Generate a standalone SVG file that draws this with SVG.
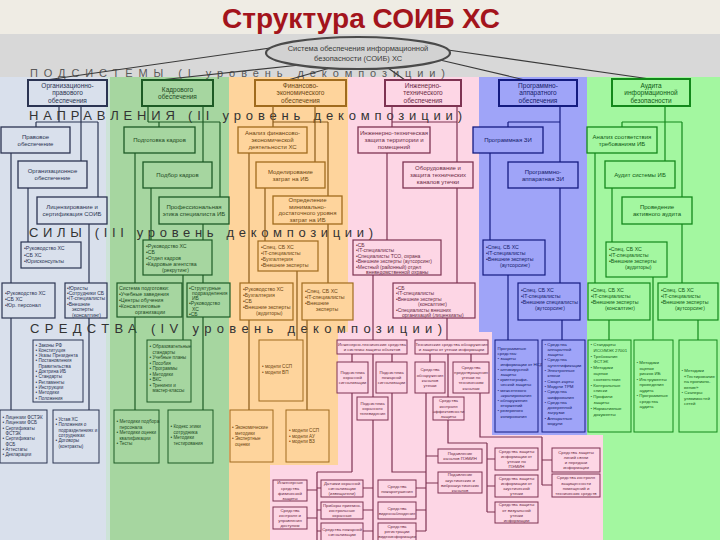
<svg xmlns="http://www.w3.org/2000/svg" width="720" height="540" viewBox="0 0 720 540">
<style>
text{font-family:"Liberation Sans",Arial,sans-serif;stroke:none}
.ttl{font-size:28px;font-weight:bold;fill:#a3141c}
.lv{fill:#333;font-size:13px}
.lv0{fill:#5a5a5a;font-size:11px}
.b1{fill:#d9e0ec;stroke:#2b3452}
.b2{fill:#a6d6a0;stroke:#1d5a25}
.b3{fill:#fed49c;stroke:#a06b1e}
.b4{fill:#fdd6e5;stroke:#7e3352}
.b5{fill:#9fa4f8;stroke:#141b80}
.b6{fill:#a3f7a0;stroke:#13881b}
.ss{stroke-width:2}
.dn{stroke-width:1.3}
.fr{stroke-width:1.2}
.mn{stroke-width:1}
.t1{fill:#2b3452}.t2{fill:#1d4a22}.t3{fill:#6b4510}.t4{fill:#6a2a44}.t5{fill:#141b6a}.t6{fill:#0f5a14}
.s6{font-size:6.5px}.s{font-size:6px}.f{font-size:5.2px}.f5{font-size:5px}.m{font-size:4.6px}.m4{font-size:4.4px}.p{font-size:4.3px}
.l0{stroke:#3a3a3a;stroke-width:1.6;fill:none}
.l1{stroke:#2b3452}.l2{stroke:#1d5a25}.l3{stroke:#8a5a18}.l4{stroke:#7e3352}.l5{stroke:#141b80}.l6{stroke:#13881b}
#connectors path{fill:none;stroke-width:1.2}
</style>

<!-- backgrounds -->
<rect x="0" y="0" width="720" height="540" fill="#efece4"/>
<rect x="0" y="34" width="720" height="43" fill="#d8d8d8"/>
<rect x="0" y="77" width="110" height="463" fill="#d9e0ec"/>
<rect x="110" y="77" width="119" height="463" fill="#a6d6a0"/>
<rect x="106" y="77" width="4" height="463" fill="#cde3d8"/>
<polygon points="229,77 348,77 348,332 338,332 338,465 270,465 270,540 229,540" fill="#fed49c"/>
<polygon points="348,77 479,77 479,332 492,332 492,435 603,435 603,540 270,540 270,465 338,465 338,332 348,332" fill="#fdd6e5"/>
<polygon points="479,77 587,77 587,435 492,435 492,332 479,332" fill="#9fa4f8"/>
<polygon points="587,77 720,77 720,540 603,540 603,435 587,435" fill="#a3f7a0"/>

<text class="ttl" x="361" y="28" text-anchor="middle" textLength="278" lengthAdjust="spacingAndGlyphs">Структура СОИБ ХС</text>

<!-- level labels -->
<text class="lv0" x="30" y="77" textLength="415" lengthAdjust="spacing">ПОДСИСТЕМЫ (I уровень декомпозиции)</text>
<text class="lv" x="29" y="120" textLength="433" lengthAdjust="spacing">НАПРАВЛЕНИЯ (II уровень декомпозиции)</text>
<text class="lv" x="29" y="237" textLength="344" lengthAdjust="spacing">СИЛЫ (III уровень декомпозиции)</text>
<text class="lv" x="30" y="333" textLength="412" lengthAdjust="spacing">СРЕДСТВА (IV уровень декомпозиции)</text>

<g id="connectors">
<path class="l0" d="M270 48L46 80M300 65L160 80M330 68L288 80M388 68L405 80M440 60L525 80M448 50L650 79"/>
<path class="l1" d="M59 106V122M81 106V161M36 122H98M36 122V127M98 122V197M11 153V410M28 188V242M89 224V410"/>
<path class="l2" d="M148 106V122M203 106V162M148 122H220M159 122V127M220 122V197M135 153V410M151 188V240M203 224V410M183 275V340"/>
<path class="l3" d="M273 106V127M315 106V162M273 122H328M328 122V196M249 153V410M265 188V241M328 224V283M307 320V410M297 271V340"/>
<path class="l4" d="M392 106V127M457 106V162M392 122H457M387 153V240M457 188V283M373 275V340M447 318V340"/>
<path class="l5" d="M560 106V162M508 122H560M508 122V127M490 153V240M560 188V283M508 275V340M562 320V340"/>
<path class="l6" d="M665 106V161M622 122H682M622 122V127M682 122V197M595 153V283M612 188V242M682 224V283M653 277V340M609 320V340M698 320V340"/>
<path class="l4" d="M352 354V362M392 354V362M373 354V397M352 393V472M317 472H352M317 472V540M307 490H317M307 518H317M317 488H321M317 510H321M317 531H321M373 420V540M363 488H373M363 510H373M363 531H373M392 393V472H426M426 393V531M426 456H438M426 483H438M416 488H426M416 510H426M416 531H426M430 354V362M471 354V362M448 354V397M448 420V443H487M487 443V512M487 459H495M487 486H495M487 512H495M480 393V437H542M542 437V485M542 460H552M542 485H552"/>
</g>

<g id="root">
<ellipse cx="358" cy="53" rx="92" ry="16" fill="#d2d2d2" stroke="#4a4a4a" stroke-width="2.2"/>
<text x="358" y="51" text-anchor="middle" font-size="7.5" fill="#3a3a3a"><tspan x="358">Система обеспечения информационной</tspan><tspan x="358" dy="9.5">безопасности (СОИБ) ХС</tspan></text>
</g>

<!-- subsystems -->
<g id="s1"><rect class="b1 ss" x="28" y="80" width="79" height="26"/><text class="t1 s6" x="67.5" y="87.8" text-anchor="middle"><tspan x="67.5">Организационно-</tspan><tspan x="67.5" dy="7.5">правового</tspan><tspan x="67.5" dy="7.5">обеспечения</tspan></text></g>
<g id="s2"><rect class="b2 ss" x="142" y="80" width="71" height="26"/><text class="t2 s6" x="177.5" y="91.5" text-anchor="middle"><tspan x="177.5">Кадрового</tspan><tspan x="177.5" dy="7.5">обеспечения</tspan></text></g>
<g id="s3"><rect class="b3 ss" x="255" y="80" width="91" height="26"/><text class="t3 s6" x="300.5" y="87.8" text-anchor="middle"><tspan x="300.5">Финансово-</tspan><tspan x="300.5" dy="7.5">экономического</tspan><tspan x="300.5" dy="7.5">обеспечения</tspan></text></g>
<g id="s4"><rect class="b4 ss" x="385" y="80" width="76" height="26"/><text class="t4 s6" x="423" y="87.8" text-anchor="middle"><tspan x="423">Инженерно-</tspan><tspan x="423" dy="7.5">технического</tspan><tspan x="423" dy="7.5">обеспечения</tspan></text></g>
<g id="s5"><rect class="b5 ss" x="499" y="80" width="78" height="26"/><text class="t5 s6" x="538" y="87.8" text-anchor="middle"><tspan x="538">Программно-</tspan><tspan x="538" dy="7.5">аппаратного</tspan><tspan x="538" dy="7.5">обеспечения</tspan></text></g>
<g id="s6"><rect class="b6 ss" x="612" y="79" width="78" height="27"/><text class="t6 s6" x="651" y="87.5" text-anchor="middle"><tspan x="651">Аудита</tspan><tspan x="651" dy="7.5">информационной</tspan><tspan x="651" dy="7.5">безопасности</tspan></text></g>

<!-- directions -->
<g id="d1a"><rect class="b1 dn" x="1" y="127" width="69" height="26"/><text class="t1 s" x="35.5" y="138.6" text-anchor="middle"><tspan x="35.5">Правовое</tspan><tspan x="35.5" dy="7">обеспечение</tspan></text></g>
<g id="d1b"><rect class="b1 dn" x="18" y="161" width="69" height="27"/><text class="t1 s" x="52.5" y="173.1" text-anchor="middle"><tspan x="52.5">Организационное</tspan><tspan x="52.5" dy="7">обеспечение</tspan></text></g>
<g id="d1c"><rect class="b1 dn" x="37" y="197" width="70" height="27"/><text class="t1 s" x="72" y="209.1" text-anchor="middle"><tspan x="72">Лицензирование и</tspan><tspan x="72" dy="7">сертификация СОИБ</tspan></text></g>
<g id="d2a"><rect class="b2 dn" x="124" y="127" width="71" height="26"/><text class="t2 s" x="159.5" y="142.1" text-anchor="middle">Подготовка кадров</text></g>
<g id="d2b"><rect class="b2 dn" x="143" y="162" width="69" height="26"/><text class="t2 s" x="177.5" y="177.1" text-anchor="middle">Подбор кадров</text></g>
<g id="d2c"><rect class="b2 dn" x="159" y="197" width="70" height="27"/><text class="t2 s" x="194" y="209.1" text-anchor="middle"><tspan x="194">Профессиональная</tspan><tspan x="194" dy="7">этика специалиста ИБ</tspan></text></g>
<g id="d3a"><rect class="b3 dn" x="238" y="127" width="69" height="26"/><text class="t3 s" x="272.5" y="135.1" text-anchor="middle"><tspan x="272.5">Анализ финансово-</tspan><tspan x="272.5" dy="7">экономической</tspan><tspan x="272.5" dy="7">деятельности ХС</tspan></text></g>
<g id="d3b"><rect class="b3 dn" x="256" y="162" width="69" height="26"/><text class="t3 s" x="290.5" y="173.6" text-anchor="middle"><tspan x="290.5">Моделирование</tspan><tspan x="290.5" dy="7">затрат на ИБ</tspan></text></g>
<g id="d3c"><rect class="b3 dn" x="273" y="196" width="69" height="28"/><text class="t3 s" x="307.5" y="202.4" text-anchor="middle"><tspan x="307.5">Определение</tspan><tspan x="307.5" dy="6.5">минимально-</tspan><tspan x="307.5" dy="6.5">достаточного уровня</tspan><tspan x="307.5" dy="6.5">затрат на ИБ</tspan></text></g>
<g id="d4a"><rect class="b4 dn" x="358" y="127" width="72" height="26"/><text class="t4 s" x="394" y="135.1" text-anchor="middle"><tspan x="394">Инженерно-техническая</tspan><tspan x="394" dy="7">защита территории и</tspan><tspan x="394" dy="7">помещений</tspan></text></g>
<g id="d4b"><rect class="b4 dn" x="403" y="162" width="70" height="26"/><text class="t4 s" x="438" y="170.1" text-anchor="middle"><tspan x="438">Оборудование и</tspan><tspan x="438" dy="7">защита технических</tspan><tspan x="438" dy="7">каналов утечки</tspan></text></g>
<g id="d5a"><rect class="b5 dn" x="473" y="127" width="70" height="26"/><text class="t5 s" x="508" y="142.1" text-anchor="middle">Программная ЗИ</text></g>
<g id="d5b"><rect class="b5 dn" x="508" y="162" width="70" height="26"/><text class="t5 s" x="543" y="173.6" text-anchor="middle"><tspan x="543">Программно-</tspan><tspan x="543" dy="7">аппаратная ЗИ</tspan></text></g>
<g id="d6a"><rect class="b6 dn" x="587" y="127" width="70" height="26"/><text class="t6 s" x="622" y="138.6" text-anchor="middle"><tspan x="622">Анализ соответствия</tspan><tspan x="622" dy="7">требованиям ИБ</tspan></text></g>
<g id="d6b"><rect class="b6 dn" x="605" y="161" width="70" height="27"/><text class="t6 s" x="640" y="176.6" text-anchor="middle">Аудит системы ИБ</text></g>
<g id="d6c"><rect class="b6 dn" x="622" y="197" width="70" height="27"/><text class="t6 s" x="657" y="209.1" text-anchor="middle"><tspan x="657">Проведение</tspan><tspan x="657" dy="7">активного аудита</tspan></text></g>

<!-- forces -->
<g id="f1a"><rect class="b1 fr" x="21" y="242" width="60" height="26"/><text class="t1 f" x="24" y="250"><tspan x="24">•Руководство ХС</tspan><tspan x="24" dy="6.5">•СБ ХС</tspan><tspan x="24" dy="6.5">•Юрисконсульты</tspan></text></g>
<g id="f1b"><rect class="b1 fr" x="2" y="283" width="53" height="35"/><text class="t1 f" x="5" y="295"><tspan x="5">•Руководство ХС</tspan><tspan x="5" dy="6">•СБ ХС</tspan><tspan x="5" dy="6">•Юр. персонал</tspan></text></g>
<g id="f1c"><rect class="b1 fr" x="65" y="283" width="42" height="35"/><text class="t1 f5" x="67" y="289.5"><tspan x="67">•Юристы</tspan><tspan x="67" dy="5.4">•Сотрудники СБ</tspan><tspan x="67" dy="5.4">•IT-специалисты</tspan><tspan x="67" dy="5.4">•Внешние</tspan><tspan x="72" dy="5.4">эксперты</tspan><tspan x="72" dy="5.4">(консалтинг)</tspan></text></g>
<g id="f2a"><rect class="b2 fr" x="143" y="240" width="69" height="35"/><text class="t2 f" x="146" y="247.5"><tspan x="146">•Руководство ХС</tspan><tspan x="146" dy="6">•СБ</tspan><tspan x="146" dy="6">•Отдел кадров</tspan><tspan x="146" dy="6">•Кадровые агентства</tspan><tspan x="162" dy="6">(рекрутинг)</tspan></text></g>
<g id="f2b"><rect class="b2 fr" x="117" y="283" width="65" height="34"/><text class="t2 f" x="119" y="290"><tspan x="119">Система подготовки:</tspan><tspan x="119" dy="6">•Учебные заведения</tspan><tspan x="119" dy="6">•Центры обучения</tspan><tspan x="119" dy="6">•Консалтинговые</tspan><tspan x="135" dy="6">организации</tspan></text></g>
<g id="f2c"><rect class="b2 fr" x="187" y="283" width="43" height="34"/><text class="t2 f5" x="189" y="289.5"><tspan x="189">•Структурные</tspan><tspan x="192" dy="5.3">подразделения</tspan><tspan x="192" dy="5.3">ИБ</tspan><tspan x="189" dy="5.3">•Руководство</tspan><tspan x="192" dy="5.3">ХС</tspan><tspan x="189" dy="5.3">•СБ</tspan></text></g>
<g id="f3a"><rect class="b3 fr" x="258" y="241" width="60" height="30"/><text class="t3 f" x="261" y="249"><tspan x="261">•Спец. СБ ХС</tspan><tspan x="261" dy="6">•IT-специалисты</tspan><tspan x="261" dy="6">•Бухгалтерия</tspan><tspan x="261" dy="6">•Внешние эксперты</tspan></text></g>
<g id="f3b"><rect class="b3 fr" x="240" y="283" width="53" height="37"/><text class="t3 f" x="243" y="291"><tspan x="243">•Руководство ХС</tspan><tspan x="243" dy="6">•Бухгалтерия</tspan><tspan x="243" dy="6">•СБ</tspan><tspan x="243" dy="6">•Внешние эксперты</tspan><tspan x="256" dy="6">(аудиторы)</tspan></text></g>
<g id="f3c"><rect class="b3 fr" x="302" y="283" width="51" height="37"/><text class="t3 f" x="305" y="293"><tspan x="305">•Спец. СБ ХС</tspan><tspan x="305" dy="6">•IT-специалисты</tspan><tspan x="305" dy="6">•Внешние</tspan><tspan x="316" dy="6">эксперты</tspan></text></g>
<g id="f4a"><rect class="b4 fr" x="353" y="240" width="88" height="35"/><text class="t4 f5" x="356" y="246.5"><tspan x="356">•СБ</tspan><tspan x="356" dy="5.5">•IT-специалисты</tspan><tspan x="356" dy="5.5">•Специалисты ТСО, охрана</tspan><tspan x="356" dy="5.5">•Внешние эксперты (аутсорсинг)</tspan><tspan x="356" dy="5.5">•Местный (районный) отдел</tspan><tspan x="366" dy="5.5">вневедомственной охраны</tspan></text></g>
<g id="f4b"><rect class="b4 fr" x="393" y="283" width="82" height="35"/><text class="t4 f5" x="396" y="289.5"><tspan x="396">•СБ</tspan><tspan x="396" dy="5.5">•IT-специалисты</tspan><tspan x="396" dy="5.5">•Внешние эксперты</tspan><tspan x="418" dy="5.5">(консалтинг)</tspan><tspan x="396" dy="5.5">•Специалисты внешних</tspan><tspan x="402" dy="5.5">организаций (лицензиаты)</tspan></text></g>
<g id="f5a"><rect class="b5 fr" x="483" y="240" width="62" height="35"/><text class="t5 f" x="486" y="249"><tspan x="486">•Спец. СБ ХС</tspan><tspan x="486" dy="6">•IT-специалисты</tspan><tspan x="486" dy="6">•Внешние эксперты</tspan><tspan x="500" dy="6">(аутсорсинг)</tspan></text></g>
<g id="f5b"><rect class="b5 fr" x="518" y="283" width="62" height="37"/><text class="t5 f" x="521" y="292"><tspan x="521">•Спец. СБ ХС</tspan><tspan x="521" dy="6">•IT-специалисты</tspan><tspan x="521" dy="6">•Внешние специалисты</tspan><tspan x="535" dy="6">(аутсорсинг)</tspan></text></g>
<g id="f6a"><rect class="b6 fr" x="606" y="242" width="61" height="35"/><text class="t6 f" x="609" y="251"><tspan x="609">•Спец. СБ ХС</tspan><tspan x="609" dy="6">•IT-специалисты</tspan><tspan x="609" dy="6">•Внешние эксперты</tspan><tspan x="625" dy="6">(аудиторы)</tspan></text></g>
<g id="f6b"><rect class="b6 fr" x="588" y="283" width="62" height="37"/><text class="t6 f" x="591" y="292"><tspan x="591">•Спец. СБ ХС</tspan><tspan x="591" dy="6">•IT-специалисты</tspan><tspan x="591" dy="6">•Внешние эксперты</tspan><tspan x="605" dy="6">(консалтинг)</tspan></text></g>
<g id="f6c"><rect class="b6 fr" x="658" y="283" width="60" height="37"/><text class="t6 f" x="661" y="292"><tspan x="661">•Спец. СБ ХС</tspan><tspan x="661" dy="6">•IT-специалисты</tspan><tspan x="661" dy="6">•Внешние эксперты</tspan><tspan x="675" dy="6">(аутсорсинг)</tspan></text></g>

<!-- means: col1 -->
<g id="m1a"><rect class="b1 mn" x="33" y="340" width="50" height="62"/><text class="t1 m" x="35.5" y="346.5"><tspan x="35.5">• Законы РФ</tspan><tspan x="35.5" dy="5.3">• Конституция</tspan><tspan x="35.5" dy="5.3">• Указы Президента</tspan><tspan x="35.5" dy="5.3">• Постановления</tspan><tspan x="38.5" dy="5.3">Правительства</tspan><tspan x="35.5" dy="5.3">• Доктрина ИБ</tspan><tspan x="35.5" dy="5.3">• Стандарты</tspan><tspan x="35.5" dy="5.3">• Регламенты</tspan><tspan x="35.5" dy="5.3">• Инструкции</tspan><tspan x="35.5" dy="5.3">• Методики</tspan><tspan x="35.5" dy="5.3">• Положения</tspan></text></g>
<g id="m1b"><rect class="b1 mn" x="0" y="410" width="47" height="53"/><text class="t1 m" x="2.5" y="419"><tspan x="2.5">• Лицензии ФСТЭК</tspan><tspan x="2.5" dy="5.3">• Лицензии ФСБ</tspan><tspan x="2.5" dy="5.3">• Сертификаты</tspan><tspan x="5.5" dy="5.3">ФСТЭК</tspan><tspan x="2.5" dy="5.3">• Сертификаты</tspan><tspan x="5.5" dy="5.3">ФСБ</tspan><tspan x="2.5" dy="5.3">• Аттестаты</tspan><tspan x="2.5" dy="5.3">• Декларации</tspan></text></g>
<g id="m1c"><rect class="b1 mn" x="53" y="410" width="46" height="53"/><text class="t1 m" x="55.5" y="421"><tspan x="55.5">• Устав ХС</tspan><tspan x="55.5" dy="5.3">• Положения о</tspan><tspan x="58.5" dy="5.3">подразделениях и</tspan><tspan x="58.5" dy="5.3">сотрудниках</tspan><tspan x="55.5" dy="5.3">• Договоры</tspan><tspan x="58.5" dy="5.3">(контракты)</tspan></text></g>
<!-- means: col2 -->
<g id="m2a"><rect class="b2 mn" x="147" y="340" width="44" height="62"/><text class="t2 m" x="149.5" y="348"><tspan x="149.5">• Образовательные</tspan><tspan x="152.5" dy="5.5">стандарты</tspan><tspan x="149.5" dy="5.5">• Учебные планы</tspan><tspan x="149.5" dy="5.5">• Пособия</tspan><tspan x="149.5" dy="5.5">• Программы</tspan><tspan x="149.5" dy="5.5">• Методики</tspan><tspan x="149.5" dy="5.5">• ВКС</tspan><tspan x="149.5" dy="5.5">• Тренинги и</tspan><tspan x="152.5" dy="5.5">мастер-классы</tspan></text></g>
<g id="m2b"><rect class="b2 mn" x="114" y="410" width="45" height="53"/><text class="t2 m" x="116.5" y="423"><tspan x="116.5">• Методики подбора</tspan><tspan x="119.5" dy="5.5">персонала</tspan><tspan x="116.5" dy="5.5">• Методики оценки</tspan><tspan x="119.5" dy="5.5">квалификации</tspan><tspan x="116.5" dy="5.5">• Тесты</tspan></text></g>
<g id="m2c"><rect class="b2 mn" x="168" y="410" width="45" height="53"/><text class="t2 m" x="170.5" y="428"><tspan x="170.5">• Кодекс этики</tspan><tspan x="173.5" dy="5.5">сотрудника</tspan><tspan x="170.5" dy="5.5">• Методики</tspan><tspan x="173.5" dy="5.5">тестирования</tspan></text></g>
<!-- means: col3 -->
<g id="m3a"><rect class="b3 mn" x="259" y="340" width="44" height="61"/><text class="t3 m" x="262" y="368"><tspan x="262">• модели ССП</tspan><tspan x="262" dy="6">• модели ВП</tspan></text></g>
<g id="m3b"><rect class="b3 mn" x="230" y="410" width="43" height="52"/><text class="t3 m" x="232" y="429"><tspan x="232">• Экономические</tspan><tspan x="235" dy="5.5">методики</tspan><tspan x="232" dy="5.5">• Экспертные</tspan><tspan x="235" dy="5.5">оценки</tspan></text></g>
<g id="m3c"><rect class="b3 mn" x="286" y="410" width="43" height="52"/><text class="t3 m" x="289" y="432"><tspan x="289">• модели ССП</tspan><tspan x="289" dy="5.5">• модели АУ</tspan><tspan x="289" dy="5.5">• модели ВЗ</tspan></text></g>
<!-- means: col4 (pink) -->
<g id="p1"><rect class="b4 mn" x="337" y="340" width="70" height="14"/><text class="t4 p" x="372" y="346" text-anchor="middle"><tspan x="372">Инженерно-технические средства</tspan><tspan x="372" dy="5.2">и системы защиты объектов</tspan></text></g>
<g id="p2"><rect class="b4 mn" x="415" y="340" width="73" height="14"/><text class="t4 p" x="451.5" y="346" text-anchor="middle"><tspan x="451.5">Технические средства обнаружения</tspan><tspan x="451.5" dy="5.2">и защиты от утечки информации</tspan></text></g>
<g id="p3"><rect class="b4 mn" x="337" y="362" width="31" height="31"/><text class="t4 p" x="352.5" y="373.9" text-anchor="middle"><tspan x="352.5">Подсистема</tspan><tspan x="352.5" dy="5.2">охранной</tspan><tspan x="352.5" dy="5.2">сигнализации</tspan></text></g>
<g id="p4"><rect class="b4 mn" x="376" y="362" width="31" height="31"/><text class="t4 p" x="391.5" y="373.9" text-anchor="middle"><tspan x="391.5">Подсистема</tspan><tspan x="391.5" dy="5.2">пожарной</tspan><tspan x="391.5" dy="5.2">сигнализации</tspan></text></g>
<g id="p5"><rect class="b4 mn" x="357" y="397" width="31" height="23"/><text class="t4 p" x="372.5" y="404.9" text-anchor="middle"><tspan x="372.5">Подсистема</tspan><tspan x="372.5" dy="5.2">охранного</tspan><tspan x="372.5" dy="5.2">телевидения</tspan></text></g>
<g id="p6"><rect class="b4 mn" x="415" y="362" width="30" height="31"/><text class="t4 p" x="430" y="371.3" text-anchor="middle"><tspan x="430">Средства</tspan><tspan x="430" dy="5.2">обнаружения</tspan><tspan x="430" dy="5.2">каналов</tspan><tspan x="430" dy="5.2">утечки</tspan></text></g>
<g id="p7"><rect class="b4 mn" x="453" y="362" width="36" height="31"/><text class="t4 p" x="471" y="368.7" text-anchor="middle"><tspan x="471">Средства</tspan><tspan x="471" dy="5.2">предотвращения</tspan><tspan x="471" dy="5.2">утечки по</tspan><tspan x="471" dy="5.2">техническим</tspan><tspan x="471" dy="5.2">каналам</tspan></text></g>
<g id="p8"><rect class="b4 mn" x="433" y="397" width="31" height="23"/><text class="t4 p" x="448.5" y="402.3" text-anchor="middle"><tspan x="448.5">Средства</tspan><tspan x="448.5" dy="5.2">контроля</tspan><tspan x="448.5" dy="5.2">эффективности</tspan><tspan x="448.5" dy="5.2">защиты</tspan></text></g>
<g id="p9"><rect class="b4 mn" x="438" y="449" width="44" height="14"/><text class="t4 p" x="460" y="455" text-anchor="middle"><tspan x="460">Подавление</tspan><tspan x="460" dy="5.2">каналов ПЭМИН</tspan></text></g>
<g id="p10"><rect class="b4 mn" x="438" y="472" width="44" height="21"/><text class="t4 p" x="460" y="476.3" text-anchor="middle"><tspan x="460">Подавление</tspan><tspan x="460" dy="5.2">акустических и</tspan><tspan x="460" dy="5.2">виброакустических</tspan><tspan x="460" dy="5.2">каналов</tspan></text></g>
<g id="q1"><rect class="b4 mn" x="495" y="448" width="43" height="22"/><text class="t4 p" x="516.5" y="452.8" text-anchor="middle"><tspan x="516.5">Средства защиты</tspan><tspan x="516.5" dy="5.2">информации от</tspan><tspan x="516.5" dy="5.2">утечки по</tspan><tspan x="516.5" dy="5.2">ПЭМИН</tspan></text></g>
<g id="q2"><rect class="b4 mn" x="495" y="475" width="43" height="22"/><text class="t4 p" x="516.5" y="479.8" text-anchor="middle"><tspan x="516.5">Средства защиты</tspan><tspan x="516.5" dy="5.2">информации от</tspan><tspan x="516.5" dy="5.2">акустической</tspan><tspan x="516.5" dy="5.2">утечки</tspan></text></g>
<g id="q3"><rect class="b4 mn" x="495" y="502" width="43" height="21"/><text class="t4 p" x="516.5" y="506.3" text-anchor="middle"><tspan x="516.5">Средства защиты</tspan><tspan x="516.5" dy="5.2">от визуальной</tspan><tspan x="516.5" dy="5.2">утечки</tspan><tspan x="516.5" dy="5.2">информации</tspan></text></g>
<g id="r1"><rect class="b4 mn" x="552" y="448" width="48" height="24"/><text class="t4 p" x="576" y="453.8" text-anchor="middle"><tspan x="576">Средства защиты</tspan><tspan x="576" dy="5.2">линий связи</tspan><tspan x="576" dy="5.2">и передачи</tspan><tspan x="576" dy="5.2">информации</tspan></text></g>
<g id="r2"><rect class="b4 mn" x="552" y="474" width="48" height="23"/><text class="t4 p" x="576" y="479.3" text-anchor="middle"><tspan x="576">Средства контроля</tspan><tspan x="576" dy="5.2">защищенности</tspan><tspan x="576" dy="5.2">помещений и</tspan><tspan x="576" dy="5.2">технических средств</tspan></text></g>
<g id="b1"><rect class="b4 mn" x="273" y="480" width="34" height="21"/><text class="t4 p" x="290" y="484.3" text-anchor="middle"><tspan x="290">Инженерные</tspan><tspan x="290" dy="5.2">средства</tspan><tspan x="290" dy="5.2">физической</tspan><tspan x="290" dy="5.2">защиты</tspan></text></g>
<g id="b2"><rect class="b4 mn" x="273" y="507" width="34" height="22"/><text class="t4 p" x="290" y="511.8" text-anchor="middle"><tspan x="290">Средства</tspan><tspan x="290" dy="5.2">контроля и</tspan><tspan x="290" dy="5.2">управления</tspan><tspan x="290" dy="5.2">доступом</tspan></text></g>
<g id="n1m"><rect class="b4 mn" x="321" y="480" width="42" height="17"/><text class="t4 p" x="342" y="485" text-anchor="middle"><tspan x="342">Датчики охранной</tspan><tspan x="342" dy="5.2">сигнализации</tspan><tspan x="342" dy="5.2">(извещатели)</tspan></text></g>
<g id="n2m"><rect class="b4 mn" x="321" y="502" width="42" height="17"/><text class="t4 p" x="342" y="507" text-anchor="middle"><tspan x="342">Приборы приемно-</tspan><tspan x="342" dy="5.2">контрольные</tspan><tspan x="342" dy="5.2">охранные</tspan></text></g>
<g id="n3m"><rect class="b4 mn" x="321" y="523" width="42" height="22"/><text class="t4 p" x="342" y="530.5" text-anchor="middle"><tspan x="342">Средства пожарной</tspan><tspan x="342" dy="5.2">сигнализации</tspan></text></g>
<g id="n1"><rect class="b4 mn" x="378" y="480" width="38" height="17"/><text class="t4 p" x="397" y="487.5" text-anchor="middle"><tspan x="397">Средства</tspan><tspan x="397" dy="5.2">пожаротушения</tspan></text></g>
<g id="n2"><rect class="b4 mn" x="378" y="502" width="38" height="17"/><text class="t4 p" x="397" y="509.5" text-anchor="middle"><tspan x="397">Средства</tspan><tspan x="397" dy="5.2">видеонаблюдения</tspan></text></g>
<g id="n3"><rect class="b4 mn" x="378" y="523" width="38" height="22"/><text class="t4 p" x="397" y="527.9" text-anchor="middle"><tspan x="397">Средства</tspan><tspan x="397" dy="5.2">регистрации</tspan><tspan x="397" dy="5.2">видеоинформации</tspan></text></g>
<!-- means: col5 -->
<g id="m5a"><rect class="b5 mn" x="495" y="340" width="43" height="92"/><text class="t5 m4" x="497.5" y="350"><tspan x="497.5">Программные</tspan><tspan x="497.5" dy="5.2">средства:</tspan><tspan x="497.5" dy="5.2">• защиты</tspan><tspan x="500.5" dy="5.2">информации от НСД</tspan><tspan x="497.5" dy="5.2">• антивирусной</tspan><tspan x="500.5" dy="5.2">защиты</tspan><tspan x="497.5" dy="5.2">• криптографи-</tspan><tspan x="500.5" dy="5.2">ческой защиты</tspan><tspan x="497.5" dy="5.2">• межсетевого</tspan><tspan x="500.5" dy="5.2">экранирования</tspan><tspan x="497.5" dy="5.2">• обнаружения</tspan><tspan x="500.5" dy="5.2">вторжений</tspan><tspan x="497.5" dy="5.2">• резервного</tspan><tspan x="500.5" dy="5.2">копирования</tspan></text></g>
<g id="m5b"><rect class="b5 mn" x="542" y="340" width="43" height="92"/><text class="t5 m4" x="544.5" y="345.5"><tspan x="544.5">• Средства</tspan><tspan x="547.5" dy="5.3">аппаратной</tspan><tspan x="547.5" dy="5.3">защиты</tspan><tspan x="544.5" dy="5.3">• Средства</tspan><tspan x="547.5" dy="5.3">аутентификации</tspan><tspan x="544.5" dy="5.3">• Электронные</tspan><tspan x="547.5" dy="5.3">ключи</tspan><tspan x="544.5" dy="5.3">• Смарт-карты</tspan><tspan x="544.5" dy="5.3">• Модули TPM</tspan><tspan x="544.5" dy="5.3">• Средства</tspan><tspan x="547.5" dy="5.3">шифрования</tspan><tspan x="544.5" dy="5.3">• Средства</tspan><tspan x="547.5" dy="5.3">доверенной</tspan><tspan x="547.5" dy="5.3">загрузки</tspan><tspan x="544.5" dy="5.3">• Аппаратные</tspan><tspan x="547.5" dy="5.3">модули</tspan></text></g>
<!-- means: col6 -->
<g id="m6a"><rect class="b6 mn" x="588" y="340" width="43" height="92"/><text class="t6 m4" x="590.5" y="346"><tspan x="590.5">• Стандарты</tspan><tspan x="593.5" dy="5.8">ИСО/МЭК 27001</tspan><tspan x="590.5" dy="5.8">• Требования</tspan><tspan x="593.5" dy="5.8">ФСТЭК</tspan><tspan x="590.5" dy="5.8">• Методики</tspan><tspan x="593.5" dy="5.8">оценки</tspan><tspan x="593.5" dy="5.8">соответствия</tspan><tspan x="590.5" dy="5.8">• Контрольные</tspan><tspan x="593.5" dy="5.8">списки</tspan><tspan x="590.5" dy="5.8">• Профили</tspan><tspan x="593.5" dy="5.8">защиты</tspan><tspan x="590.5" dy="5.8">• Нормативные</tspan><tspan x="593.5" dy="5.8">документы</tspan></text></g>
<g id="m6b"><rect class="b6 mn" x="634" y="340" width="39" height="92"/><text class="t6 m4" x="636.5" y="364"><tspan x="636.5">• Методики</tspan><tspan x="639.5" dy="5.5">оценки</tspan><tspan x="639.5" dy="5.5">рисков ИБ</tspan><tspan x="636.5" dy="5.5">• Инструменты</tspan><tspan x="639.5" dy="5.5">проведения</tspan><tspan x="639.5" dy="5.5">аудита</tspan><tspan x="636.5" dy="5.5">• Программные</tspan><tspan x="639.5" dy="5.5">средства</tspan><tspan x="639.5" dy="5.5">аудита</tspan></text></g>
<g id="m6c"><rect class="b6 mn" x="679" y="340" width="38" height="92"/><text class="t6 m4" x="681.5" y="372"><tspan x="681.5">• Методики</tspan><tspan x="684" dy="5.5">«Тестирование</tspan><tspan x="684" dy="5.5">на проникно-</tspan><tspan x="684" dy="5.5">вение»</tspan><tspan x="681.5" dy="5.5">• Сканеры</tspan><tspan x="684" dy="5.5">уязвимостей</tspan><tspan x="684" dy="5.5">сетей</tspan></text></g>
</svg>
